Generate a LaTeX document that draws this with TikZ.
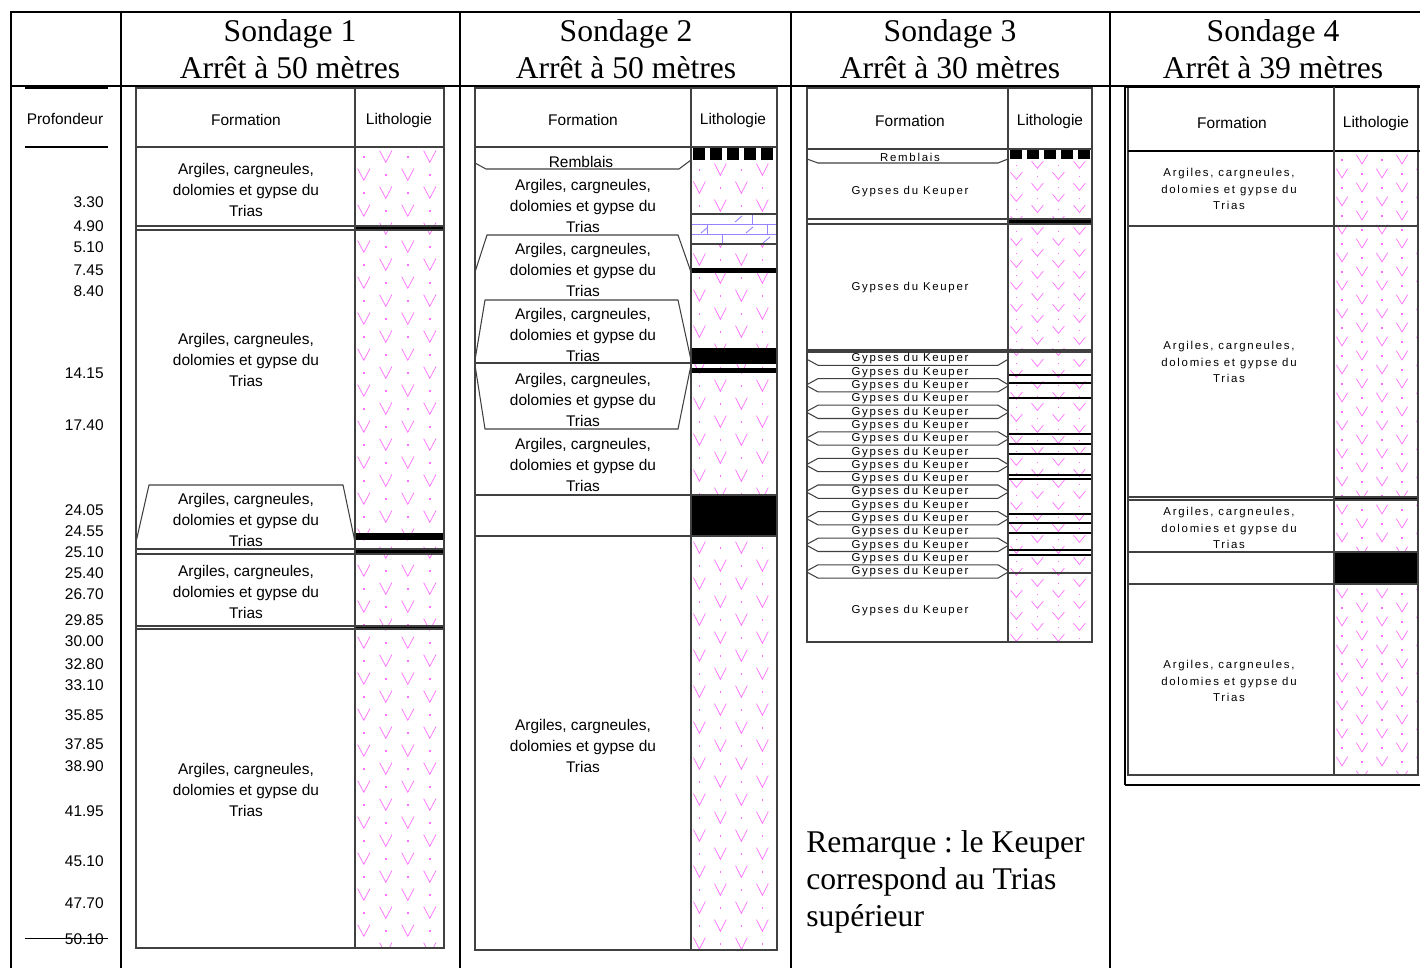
\documentclass[tikz,border=0pt]{standalone}
\usepackage{fontspec}
\setmainfont{Liberation Serif}
\newfontfamily\sansfnt{Liberation Sans}
\newfontfamily\widesf[LetterSpace=15]{Liberation Sans}
\usepackage{tikz}
\frenchspacing

\definecolor{gypc}{RGB}{255,110,255}
\definecolor{calc}{RGB}{150,130,255}

\tikzset{
  frame/.style={line width=1.4pt},
  logline/.style={draw=black!75, line width=0.6pt},
  blackband/.style={fill=black},
  head/.style={font=\fontsize{18}{21}\selectfont, align=center, inner sep=0},
  lbl/.style={font=\sansfnt\fontsize{8.8}{11.9}\selectfont, align=center, inner sep=0},
  small/.style={font=\widesf\fontsize{6.5}{9.35}\selectfont, align=center, inner sep=0},
  depth/.style={font=\sansfnt\fontsize{8.8}{10}\selectfont, anchor=east, inner sep=0},
  gyp/.style={draw=gypc, line width=0.4pt},
  calcl/.style={draw=calc, line width=0.5pt}
}

\newcommand{\trias}{Argiles, cargneules,\\dolomies et gypse du\\Trias}

% motif de gypse : x1 y1 x2 y2 pas-x pas-y
\newcommand{\gypse}[6]{%
  \begin{scope}
    \clip (#1,#2) rectangle (#3,#4);
    \pgfmathtruncatemacro{\nr}{(#4-#2)/#6+1}
    \pgfmathtruncatemacro{\nc}{(#3-#1)/#5+1}
    \foreach \r in {0,...,\nr}{
      \foreach \c in {-1,...,\nc}{
        \pgfmathsetmacro{\vx}{#1+0.2*#5+\c*#5+mod(\r+1,2)*#5/2}
        \pgfmathsetmacro{\vy}{#2+(\r+0.2)*#6}
        \draw[gyp] (\vx-0.14*#5,\vy) -- (\vx,\vy+0.65*#6) -- (\vx+0.14*#5,\vy);
        \fill[gypc] (\vx+0.5*#5-0.8,\vy+0.3*#6) rectangle ++(1.6,1.6);
      }
    }
  \end{scope}}

% remblais : damier noir et blanc
\newcommand{\damier}[4]{%
  \fill[white] (#1,#2) rectangle (#3,#4);
  \begin{scope}
    \clip (#1,#2) rectangle (#3,#4);
    \foreach \i in {0,...,5} \fill (#1+2+17*\i,#2) rectangle ++(12,#4-#2);
  \end{scope}}

\begin{document}
\begin{tikzpicture}[x=0.02cm,y=-0.02cm]
\useasboundingbox (0,0) rectangle (1420,968);

% cadre general
\draw[frame] (11,968) -- (11,12) -- (1420,12);
\draw[frame] (11,86) -- (1420,86);
\foreach \x in {121,460,791,1110} \draw[frame] (\x,12) -- (\x,968);

\node[head] (h1) at (290,49) {Sondage 1\\Arrêt à 50 mètres};
\node[head] (h2) at (626,49) {Sondage 2\\Arrêt à 50 mètres};
\node[head] (h3) at (950,49) {Sondage 3\\Arrêt à 30 mètres};
\node[head] (h4) at (1273,49) {Sondage 4\\Arrêt à 39 mètres};

% profondeurs
\draw[line width=1pt] (25,88) -- (108,88);
\draw[line width=0.8pt] (25,147) -- (108,147);
\node[lbl] (prof) at (65,119) {Profondeur};
\foreach \d/\y in {3.30/201, 4.90/225, 5.10/246, 7.45/269, 8.40/290, 14.15/372,
  17.40/424, 24.05/509, 24.55/530, 25.10/551, 25.40/572, 26.70/593, 29.85/619,
  30.00/640, 32.80/663, 33.10/684, 35.85/714, 37.85/743, 38.90/765, 41.95/810,
  45.10/860, 47.70/902, 50.10/938}
  \node[depth] (p\y) at (104,\y+1) {\d};
\draw (25,938) -- (108,938);

% ---------- sondage 1
\gypse{355}{147}{444}{948}{44}{18}
\fill[blackband] (355,226) rectangle (444,230);
\fill[blackband] (355,533) rectangle (444,540);
\fill[blackband] (355,549) rectangle (444,554);
\fill[blackband] (355,625) rectangle (444,629);
\draw[logline] (136,88) rectangle (444,948);
\draw[logline] (136,147) -- (444,147);
\draw[logline] (355,88) -- (355,948);
\draw[logline] (136,226) -- (444,226) (136,230) -- (444,230);
\draw[logline] (136,542) -- (149,485) -- (343,485) -- (355,542);
\draw[logline] (136,549) -- (444,549) (136,554) -- (444,554);
\draw[logline] (136,626) -- (444,626) (136,629) -- (444,629);
\node[lbl] (f1) at (246,120) {Formation};
\node[lbl] (l1) at (399,120) {Lithologie};
\node[lbl] (a1) at (246,190) {\trias};
\node[lbl] (b1) at (246,360) {\trias};
\node[lbl] (c1) at (246,520) {\trias};
\node[lbl] (d1) at (246,592) {\trias};
\node[lbl] (e1) at (246,790) {\trias};

% ---------- sondage 2
\gypse{691}{160}{777}{950}{42}{18}
\damier{691}{148}{777}{160}
\fill[white] (691,214) rectangle (777,244);
\draw[calcl] (691,224) -- (777,224) (691,234) -- (777,234);
\draw[calcl] (752,214) -- (752,224) (707,224) -- (707,234) (767,224) -- (767,234) (722,234) -- (722,244);
\draw[calcl] (735,222) -- (742,216) (701,233) -- (708,227) (746,233) -- (753,227) (763,243) -- (770,237);
\draw[logline] (691,214) -- (777,214) (691,244) -- (777,244);
\fill[blackband] (691,268) rectangle (777,273);
\fill[blackband] (691,348) rectangle (777,364);
\fill[blackband] (691,368) rectangle (777,373);
\fill[blackband] (691,495) rectangle (777,536);
\draw[logline] (475,88) rectangle (777,950);
\draw[logline] (475,147) -- (777,147);
\draw[logline] (691,88) -- (691,950);
\draw[logline] (475,163) -- (486,169) -- (679,169) -- (691,160);
\draw[logline] (475,272) -- (487,235) -- (678,235) -- (691,272);
\draw[logline] (475,360) -- (485,300) -- (678,300) -- (691,360);
\draw[logline] (475,363) -- (691,363);
\draw[logline] (475,365) -- (485,429) -- (678,429) -- (691,365);
\draw[logline] (475,495) -- (777,495) (475,536) -- (777,536);
\node[lbl] (f2) at (583,120) {Formation};
\node[lbl] (l2) at (733,120) {Lithologie};
\node[lbl] (r2) at (581,162) {Remblais};
\node[lbl] (a2) at (583,206) {\trias};
\node[lbl] (b2) at (583,270) {\trias};
\node[lbl] (c2) at (583,335) {\trias};
\node[lbl] (d2) at (583,400) {\trias};
\node[lbl] (e2) at (583,465) {\trias};
\node[lbl] (g2) at (583,746) {\trias};

% ---------- sondage 3
\gypse{1008}{159}{1092}{642}{42}{11}
\damier{1008}{149}{1092}{159}
\fill[blackband] (1008,219) rectangle (1092,224);
\foreach \y in {375,383,398,434,444,454,475,479,514,523,533,550,555}
  \draw[line width=1.2pt] (1008,\y) -- (1092,\y);
\draw[logline] (1008,573) -- (1092,573);
\draw[logline] (807,88) rectangle (1092,642);
\draw[logline] (807,149) -- (1092,149);
\draw[logline] (1008,88) -- (1008,642);
\draw[logline] (807,159) -- (818,163) -- (998,163) -- (1008,159);
\draw[logline] (807,219) -- (1092,219) (807,224) -- (1092,224);
\draw[logline] (807,350) -- (1092,350) (807,352) -- (1092,352);
\foreach \i in {1,...,17}{
  \pgfmathsetmacro{\by}{352+13.3*\i}
  \pgfmathsetmacro{\bdy}{6-12*mod(\i,2)}
  \draw[logline] (807,\by+\bdy) -- (818,\by) -- (998,\by) -- (1008,\by+\bdy);
}
\node[lbl] (f3) at (910,121) {Formation};
\node[lbl] (l3) at (1050,121) {Lithologie};
\node[small] (r3) at (910,157) {Remblais};
\node[small] (k1) at (910,192) {Gypses du Keuper};
\node[small] (k2) at (910,288) {Gypses du Keuper};
\foreach \i in {0,...,16}
  \node[small] (t\i) at (910,{359+13.3*\i}) {Gypses du Keuper};
\node[small] (k3) at (910,611) {Gypses du Keuper};

% ---------- sondage 4
\gypse{1334}{152}{1418}{775}{40}{14}
\fill[blackband] (1334,497) rectangle (1418,500);
\fill[blackband] (1334,552) rectangle (1418,584);
\draw[logline] (1128,87) rectangle (1418,775);
\draw[line width=1pt] (1125,785) -- (1125,87) -- (1420,87);
\draw[line width=1.2pt] (1125,785) -- (1420,785);
\draw[line width=1.2pt] (1128,151) -- (1420,151);
\draw[logline] (1334,87) -- (1334,775);
\draw[logline] (1128,226) -- (1418,226);
\draw[logline] (1128,497) -- (1418,497) (1128,500) -- (1418,500);
\draw[logline] (1128,552) -- (1418,552) (1128,584) -- (1418,584);
\node[lbl] (f4) at (1232,123) {Formation};
\node[lbl] (l4) at (1376,123) {Lithologie};
\node[small] (a4) at (1229,189) {\trias};
\node[small] (b4) at (1229,362) {\trias};
\node[small] (c4) at (1229,528) {\trias};
\node[small] (d4) at (1229,681) {\trias};

% remarque
\node[head, align=left, anchor=west] (rq) at (806,882)
  {Remarque : le Keuper\\correspond au Trias\\supérieur};
\end{tikzpicture}
\end{document}
